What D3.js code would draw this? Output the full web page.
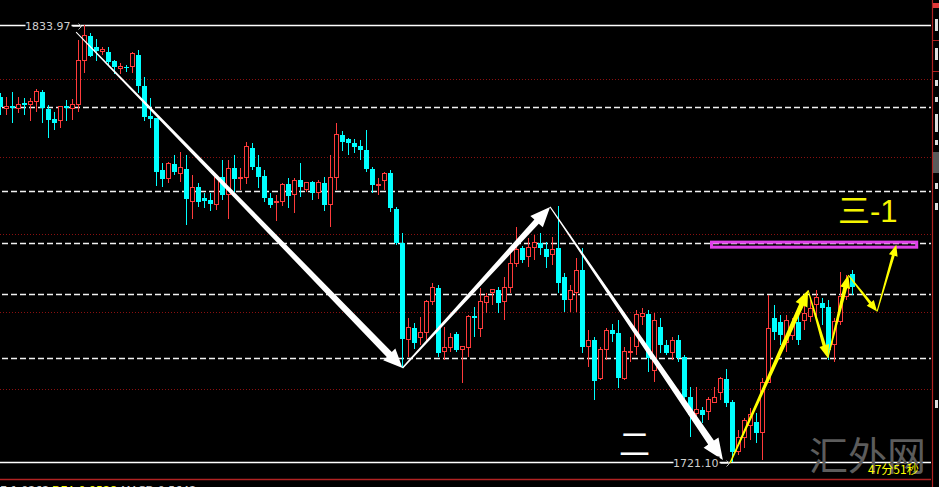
<!DOCTYPE html>
<html><head><meta charset="utf-8">
<script src="https://cdn.jsdelivr.net/npm/d3@7"></script>
<style>html,body{margin:0;padding:0;background:#000;overflow:hidden}</style>
</head><body>
<svg id="c" width="939" height="487"></svg>
<script>
const opens = [1815.4,1812.5,1813.0,1812.3,1813.8,1813.5,1814.1,1816.7,1812.3,1809.7,1809.2,1813.0,1812.3,1813.3,1824.9,1831.1,1828.3,1827.2,1827.0,1824.7,1822.8,1823.1,1823.1,1826.2,1818.2,1810.5,1809.9,1796.5,1794.2,1798.1,1795.7,1796.8,1788.5,1792.1,1789.3,1788.8,1787.5,1794.7,1790.1,1797.1,1794.2,1794.5,1802.2,1797.3,1795.0,1789.3,1788.3,1788.3,1792.9,1790.1,1793.9,1791.6,1793.4,1790.6,1793.2,1787.5,1794.5,1805.6,1804.5,1803.5,1802.7,1801.7,1796.8,1792.4,1793.9,1795.7,1786.5,1777.7,1752.9,1755.7,1753.4,1754.7,1762.5,1766.1,1749.6,1750.6,1754.2,1750.1,1750.6,1758.8,1755.7,1762.2,1764.8,1765.6,1762.5,1766.3,1772.5,1776.4,1774.1,1776.4,1777.7,1776.1,1774.6,1776.4,1768.9,1763.0,1765.0,1770.7,1750.9,1752.6,1742.8,1750.1,1755.2,1754.5,1742.8,1749.3,1750.9,1758.8,1759.4,1744.9,1756.0,1751.4,1749.3,1752.6,1748.3,1737.9,1733.8,1734.6,1734.1,1736.6,1739.2,1742.6,1736.6,1724.0,1727.4,1730.7,1731.5,1728.9,1741.8,1758.3,1757.3,1752.1,1753.9,1757.3,1757.8,1758.6,1761.7,1762.2,1761.2,1751.4,1757.3,1764.0,1769.7];
const highs = [1816.4,1815.4,1816.7,1815.4,1815.1,1815.1,1817.4,1817.2,1813.3,1811.5,1813.0,1814.6,1814.9,1830.1,1833.97,1831.9,1830.3,1828.3,1828.3,1824.9,1824.1,1823.6,1827.0,1827.5,1820.5,1815.1,1809.9,1798.3,1798.6,1800.4,1801.2,1800.4,1795.2,1793.2,1790.6,1790.6,1795.2,1799.1,1799.1,1800.4,1797.1,1803.8,1803.5,1800.4,1796.5,1790.6,1790.1,1793.2,1794.5,1794.5,1798.3,1793.4,1793.7,1793.9,1794.7,1800.4,1808.6,1806.6,1804.8,1804.5,1804.3,1806.9,1797.3,1794.5,1796.0,1796.5,1787.0,1780.3,1758.3,1757.0,1758.6,1763.0,1767.4,1766.8,1756.0,1754.5,1754.7,1751.1,1759.1,1761.2,1766.1,1764.8,1765.6,1766.3,1768.9,1776.1,1781.8,1776.9,1779.0,1779.7,1780.3,1777.9,1779.2,1787.2,1769.9,1766.8,1773.8,1776.4,1755.2,1753.4,1750.9,1755.7,1756.8,1757.8,1750.9,1753.4,1760.4,1760.9,1760.4,1759.6,1758.3,1752.6,1753.4,1753.9,1748.8,1740.5,1740.5,1735.4,1737.9,1740.5,1743.1,1745.2,1737.2,1729.3,1732.5,1735.1,1733.8,1742.8,1764.3,1761.7,1759.1,1759.1,1758.3,1760.4,1761.7,1763.0,1765.6,1763.5,1763.0,1758.3,1770.2,1769.4,1770.7];
const lows = [1810.7,1810.7,1808.6,1811.2,1810.7,1809.2,1811.5,1808.6,1804.8,1806.9,1807.4,1809.2,1809.4,1811.5,1821.6,1825.7,1824.7,1826.2,1823.6,1821.3,1821.3,1821.8,1821.6,1816.4,1809.2,1807.4,1792.4,1792.1,1793.2,1795.2,1793.4,1782.3,1783.9,1787.0,1786.7,1785.9,1786.2,1788.8,1783.9,1790.9,1791.4,1792.9,1796.5,1791.9,1788.3,1786.7,1783.4,1787.2,1786.7,1785.4,1789.6,1790.9,1788.8,1789.0,1785.9,1781.8,1791.4,1801.4,1800.4,1800.9,1799.1,1796.0,1790.6,1790.1,1791.4,1785.7,1777.2,1745.4,1748.3,1750.3,1751.4,1751.9,1761.7,1748.3,1747.5,1749.6,1749.6,1741.6,1748.3,1753.4,1753.4,1759.6,1761.7,1759.6,1757.8,1764.8,1771.5,1772.5,1771.5,1773.3,1774.6,1771.2,1772.0,1764.8,1759.9,1759.9,1759.9,1749.3,1745.7,1737.2,1742.3,1747.5,1752.1,1740.3,1742.3,1747.0,1748.8,1756.5,1744.4,1741.8,1749.3,1748.8,1747.5,1747.0,1736.4,1727.6,1732.0,1731.2,1732.0,1736.4,1737.2,1735.4,1721.1,1723.0,1724.8,1726.8,1726.1,1721.7,1741.6,1752.6,1751.4,1749.6,1752.6,1751.4,1755.2,1757.3,1758.3,1756.5,1747.5,1747.0,1756.5,1763.0,1764.3];
const closes = [1812.8,1813.0,1812.5,1813.3,1813.3,1814.3,1816.9,1812.5,1809.4,1808.6,1813.0,1812.5,1813.5,1824.9,1831.1,1825.9,1827.2,1827.7,1824.4,1823.1,1823.1,1822.8,1826.5,1818.2,1810.2,1809.7,1796.0,1794.2,1798.1,1796.0,1797.1,1789.0,1792.1,1788.3,1788.5,1787.7,1794.5,1790.1,1796.8,1794.2,1794.5,1802.5,1797.3,1794.7,1789.3,1787.5,1788.5,1792.9,1789.8,1793.9,1792.1,1793.2,1790.6,1793.2,1787.5,1794.5,1805.8,1803.8,1803.5,1802.5,1801.7,1796.8,1792.7,1792.9,1795.7,1786.7,1777.7,1752.9,1756.0,1751.9,1754.7,1762.5,1766.1,1749.3,1750.6,1753.4,1750.1,1750.9,1758.6,1758.3,1762.5,1764.0,1765.6,1762.2,1766.3,1772.5,1776.1,1773.3,1776.4,1777.7,1776.4,1774.1,1776.1,1767.4,1763.0,1765.3,1770.7,1750.9,1752.6,1742.1,1750.3,1755.2,1754.2,1742.8,1749.6,1749.8,1759.1,1759.4,1748.0,1757.8,1751.4,1749.3,1752.6,1748.0,1737.9,1733.3,1734.6,1733.3,1737.2,1737.9,1742.6,1736.4,1723.8,1727.4,1732.0,1733.3,1728.6,1741.8,1755.7,1754.7,1753.9,1757.8,1756.5,1752.6,1759.4,1760.7,1763.5,1760.9,1750.1,1757.3,1764.0,1766.8,1766.3];

const gridPrices = [1820, 1800, 1780, 1760, 1740];
const dashedLevels = [1812.8, 1791.1, 1777.7, 1764.5, 1748.0];
const extremeLabels = ["1833.97", "1721.10"];
const extremePrices = [1833.97, 1721.10];
const extremeIndex = [14, 122];
const whitePath = [[12.6, 1832.1], [67.0, 1745.4], [91.6, 1787.0], [120.4, 1721.7]];
const yellowPath = [[121.6, 1720.9], [134.6, 1765.5], [137.9, 1748.0], [141.3, 1769.4], [146.1, 1760.0], [149.3, 1777.2]];
const zoneIdx = [118.5, 152.7];
const zonePrice = [1777.9, 1776.6];
const macdLabels = ["E:1.0262", "DEA:0.9528", "MACD:0.5642"];

const W = 939, H = 487;
const svg = d3.select("#c");
svg.append("rect").attr("width", W).attr("height", H).attr("fill", "#000");

const x = d3.scaleLinear().domain([0, 155]).range([0.5, 930.5]);
const y = d3.scaleLinear().domain([1720, 1840]).range([466.5, 1.5]);
const plotR = 931;

// red dotted grid
svg.append("g").selectAll("line").data(gridPrices).join("line")
  .attr("x1", 0).attr("x2", plotR)
  .attr("y1", d => Math.round(y(d)) + 0.5).attr("y2", d => Math.round(y(d)) + 0.5)
  .attr("stroke", "#8a1010").attr("stroke-width", 1).attr("stroke-dasharray", "1,2");

// white dashed levels
svg.append("g").selectAll("line").data(dashedLevels).join("line")
  .attr("x1", 2).attr("x2", plotR)
  .attr("y1", d => Math.round(y(d)) + 0.5).attr("y2", d => Math.round(y(d)) + 0.5)
  .attr("stroke", "#f2f2f2").attr("stroke-width", 1.3).attr("stroke-dasharray", "6,3");

// solid extreme lines
svg.append("g").selectAll("line").data(extremePrices).join("line")
  .attr("x1", 0).attr("x2", plotR)
  .attr("y1", d => Math.round(y(d)) + 0.5).attr("y2", d => Math.round(y(d)) + 0.5)
  .attr("stroke", "#ffffff").attr("stroke-width", 1.5);

// bottom red separator
svg.append("line").attr("x1", 0).attr("x2", plotR).attr("y1", 479.5).attr("y2", 479.5)
  .attr("stroke", "#b02222").attr("stroke-width", 1.5);

// right axis panel
svg.append("line").attr("x1", 932.5).attr("x2", 932.5).attr("y1", 0).attr("y2", H)
  .attr("stroke", "#b02222").attr("stroke-width", 1.2);
const rp = svg.append("g");
rp.append("rect").attr("x", 933).attr("y", 3).attr("width", 6).attr("height", 5).attr("fill", "#e03a3a");
[40, 71].forEach(v => rp.append("line").attr("x1", 933).attr("x2", 939).attr("y1", v + 0.5).attr("y2", v + 0.5).attr("stroke", "#b02222"));
rp.append("rect").attr("x", 933).attr("y", 152).attr("width", 6).attr("height", 21).attr("fill", "#5a5a5a");
[[19, 12], [48, 12], [80, 6], [97, 5], [114, 18], [140, 5], [183, 6], [203, 7], [400, 8]].forEach(([yy, hh]) =>
  rp.append("rect").attr("x", 935).attr("y", yy).attr("width", 3).attr("height", hh).attr("fill", "#dcdcdc"));

// candles
const candles = opens.map((o, i) => ({ i, o, h: highs[i], l: lows[i], c: closes[i] }));
const cg = svg.append("g").attr("shape-rendering", "crispEdges");
const up = d => d.c >= d.o;
cg.selectAll("line.w").data(candles).join("line").attr("class", "w")
  .attr("x1", d => x(d.i)).attr("x2", d => x(d.i))
  .attr("y1", d => y(d.h)).attr("y2", d => y(d.l))
  .attr("stroke", d => up(d) ? "#ff3b3b" : "#00ffff").attr("stroke-width", 1);
cg.selectAll("rect.b").data(candles).join("rect").attr("class", "b")
  .attr("x", d => up(d) ? x(d.i) - 2 : x(d.i) - 2.5)
  .attr("width", d => up(d) ? 4 : 5)
  .attr("y", d => y(Math.max(d.o, d.c)))
  .attr("height", d => Math.max(1, y(Math.min(d.o, d.c)) - y(Math.max(d.o, d.c))))
  .attr("fill", d => up(d) ? "#000" : "#00ffff")
  .attr("stroke", d => up(d) ? "#ff3b3b" : "none").attr("stroke-width", 1);

// magenta zone
svg.append("rect")
  .attr("x", x(zoneIdx[0])).attr("width", x(zoneIdx[1]) - x(zoneIdx[0]))
  .attr("y", y(zonePrice[0])).attr("height", y(zonePrice[1]) - y(zonePrice[0]))
  .attr("fill", "none").attr("stroke", "#e040e8").attr("stroke-width", 3);

// tapered arrow
function arrow(g, p0, p1, w0, w1, hl, hw, color) {
  const [x0, y0] = p0, [x1, y1] = p1;
  const dx = x1 - x0, dy = y1 - y0, L = Math.hypot(dx, dy);
  const ux = dx / L, uy = dy / L, nx = -uy, ny = ux;
  const bx = x1 - ux * hl, by = y1 - uy * hl;
  const pts = [
    [x0 + nx * w0 / 2, y0 + ny * w0 / 2],
    [bx + nx * w1 / 2, by + ny * w1 / 2],
    [bx + nx * hw / 2, by + ny * hw / 2],
    [x1, y1],
    [bx - nx * hw / 2, by - ny * hw / 2],
    [bx - nx * w1 / 2, by - ny * w1 / 2],
    [x0 - nx * w0 / 2, y0 - ny * w0 / 2]
  ];
  g.append("path").attr("d", d3.line()(pts) + "Z").attr("fill", color);
}
const ag = svg.append("g");
const wStyle = [[1, 7, 19, 17], [1.5, 6, 20, 17], [1, 7, 21, 18]];
for (let k = 0; k < whitePath.length - 1; k++) {
  const a = whitePath[k], b = whitePath[k + 1], s = wStyle[k];
  arrow(ag, [x(a[0]), y(a[1])], [x(b[0]), y(b[1])], s[0], s[1], s[2], s[3], "#ffffff");
}
const yStyle = [[1.5, 5, 16, 13], [1, 3.5, 13, 10], [1, 4, 13, 10], [1, 3, 11, 9], [1, 3, 11, 9]];
for (let k = 0; k < yellowPath.length - 1; k++) {
  const a = yellowPath[k], b = yellowPath[k + 1], s = yStyle[k];
  arrow(ag, [x(a[0]), y(a[1])], [x(b[0]), y(b[1])], s[0], s[1], s[2], s[3], "#ffff00");
}

// extreme labels
const lg = svg.append("g");
extremeLabels.forEach((t, k) => {
  const xe = x(extremeIndex[k]) - 3;
  const yy = Math.round(y(extremePrices[k])) + 0.5;
  const tx = xe - 10;
  lg.append("rect").attr("x", tx - 46).attr("y", yy - 6).attr("width", 46).attr("height", 12).attr("fill", "#000");
  lg.append("text").attr("x", tx - 1).attr("y", yy + 4).attr("text-anchor", "end")
    .attr("font-family", "DejaVu Sans, sans-serif").attr("font-size", 11).attr("fill", "#cfcfcf").text(t);
  lg.append("line").attr("x1", tx + 1).attr("x2", xe).attr("y1", yy + 1).attr("y2", yy + 1).attr("stroke", "#bbbbbb");
  lg.append("path").attr("d", `M${xe},${yy + 1}L${xe - 3},${yy - 2}M${xe},${yy + 1}L${xe - 3},${yy + 4}`).attr("stroke", "#bbbbbb").attr("fill", "none");
});

// watermark
svg.append("text").attr("x", 809).attr("y", 470)
  .attr("font-family", "Noto Sans CJK SC, sans-serif").attr("font-size", 39).attr("fill", "#5c5c5c")
  .text("汇外网");
svg.append("text").attr("x", 868).attr("y", 474)
  .attr("font-family", "Noto Sans CJK SC, sans-serif").attr("font-size", 12).attr("fill", "#ffff00")
  .text("47分51秒");

// annotations
const t3 = svg.append("text").attr("x", 838).attr("y", 222).attr("fill", "#f5f500");
t3.append("tspan").attr("font-family", "Noto Sans CJK SC, sans-serif").attr("font-size", 32).text("三");
t3.append("tspan").attr("font-family", "Liberation Sans, Arial, sans-serif").attr("font-size", 31).text("-1");
svg.append("text").attr("x", 619).attr("y", 455)
  .attr("font-family", "Noto Sans CJK SC, sans-serif").attr("font-size", 31).attr("fill", "#ffffff")
  .text("二");

// MACD line (cut off at the bottom)
const mx = [0, 52, 121];
const mc = ["#cfcfcf", "#ffff00", "#cfcfcf"];
macdLabels.forEach((t, k) => svg.append("text").attr("x", mx[k]).attr("y", 494)
  .attr("font-family", "DejaVu Sans, sans-serif").attr("font-size", 11).attr("fill", mc[k]).text(t));
</script>
</body></html>
